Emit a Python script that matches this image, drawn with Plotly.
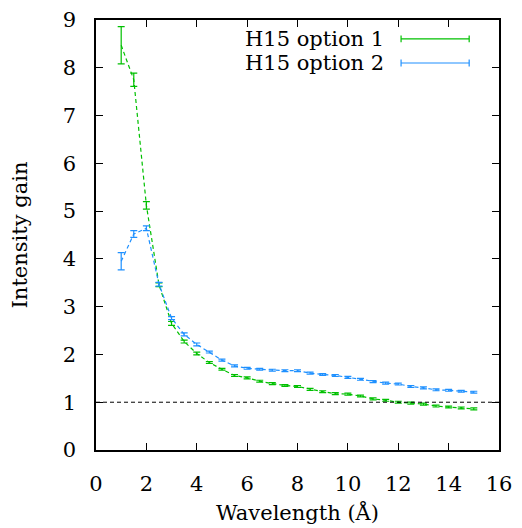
import plotly.graph_objects as go

# wavelength (Angstrom)
wavelength = [1.0, 1.5, 2.0, 2.5, 3.0, 3.5, 4.0, 4.5, 5.0, 5.5, 6.0, 6.5, 7.0, 7.5,
              8.0, 8.5, 9.0, 9.5, 10.0, 10.5, 11.0, 11.5, 12.0, 12.5, 13.0, 13.5,
              14.0, 14.5, 15.0]

# H15 option 1
gain_opt1 = [8.47, 7.75, 5.12, 3.46, 2.65, 2.27, 2.02, 1.83, 1.69, 1.56, 1.51, 1.44,
             1.39, 1.35, 1.33, 1.27, 1.22, 1.18, 1.17, 1.13, 1.07, 1.04, 1.00, 0.98,
             0.96, 0.92, 0.90, 0.88, 0.86]
err_opt1 = [0.39, 0.14, 0.08, 0.04, 0.04, 0.03, 0.03, 0.02, 0.02, 0.02, 0.02, 0.02,
            0.02, 0.02, 0.02, 0.02, 0.02, 0.02, 0.02, 0.02, 0.02, 0.02, 0.02, 0.02,
            0.02, 0.02, 0.02, 0.02, 0.02]

# H15 option 2
gain_opt2 = [3.95, 4.52, 4.64, 3.47, 2.76, 2.42, 2.21, 2.05, 1.88, 1.76, 1.71, 1.69,
             1.67, 1.66, 1.66, 1.61, 1.58, 1.56, 1.52, 1.48, 1.43, 1.40, 1.38, 1.33,
             1.30, 1.26, 1.25, 1.23, 1.21]
err_opt2 = [0.18, 0.07, 0.05, 0.04, 0.03, 0.03, 0.03, 0.02, 0.02, 0.02, 0.02, 0.02,
            0.02, 0.02, 0.02, 0.02, 0.02, 0.02, 0.02, 0.02, 0.02, 0.02, 0.02, 0.02,
            0.02, 0.02, 0.02, 0.02, 0.02]

names = ["H15 option 1", "H15 option 2"]
colors = ["#00c000", "#1e90ff"]

# DejaVu Serif is the serif face that renders reliably here
font = "DejaVu Serif"

fig = go.Figure()

for name, y, err, c in zip(names, [gain_opt1, gain_opt2], [err_opt1, err_opt2], colors):
    fig.add_trace(go.Scatter(
        x=wavelength, y=y, name=name, mode="lines",
        line=dict(color=c, width=1.2, dash="4px,3px"),
        error_y=dict(type="data", array=err, visible=True, color=c, thickness=1.2, width=3.5),
        showlegend=False,
    ))

# reference line at gain = 1
fig.add_trace(go.Scatter(
    x=[0, 16], y=[1, 1], mode="lines", showlegend=False,
    line=dict(color="black", width=1, dash="4px,3px"),
))

# legend drawn by hand (text left, error-bar sample right)
for i, (name, c) in enumerate(zip(names, colors)):
    yp = 0.956 - i * 0.056
    fig.add_annotation(x=0.72, y=yp, xref="paper", yref="paper", text=name,
                       showarrow=False, xanchor="right", yanchor="middle",
                       font=dict(family=font, size=21, color="black"))
    fig.add_shape(type="line", xref="paper", yref="paper", x0=0.757, x1=0.926,
                  y0=yp, y1=yp, line=dict(color=c, width=1.2))
    for xe in (0.757, 0.926):
        fig.add_shape(type="line", xref="paper", yref="paper", x0=xe, x1=xe,
                      y0=yp - 0.008, y1=yp + 0.008, line=dict(color=c, width=1.2))

# the page body has an 8px margin, so the figure is a little smaller than the window
fig.update_layout(
    width=514, height=520,
    margin=dict(l=88, r=23, t=12, b=78),
    paper_bgcolor="white", plot_bgcolor="white",
    font=dict(family=font, size=21, color="black"),
    xaxis=dict(range=[0, 16], dtick=2, ticklabelstandoff=14,
               title=dict(text="Wavelength (Å)", font=dict(family=font, size=21), standoff=10)),
    yaxis=dict(range=[0, 9], dtick=1, ticklabelstandoff=14,
               title=dict(text="Intensity gain", font=dict(family=font, size=21), standoff=30)),
)
axis_style = dict(
    showgrid=False, zeroline=False, showline=True, linecolor="black", linewidth=1.5,
    mirror="ticks", ticks="inside", ticklen=7, tickwidth=1, tickcolor="black",
    tickfont=dict(family=font, size=21, color="black"), automargin=False,
    ticklabeloverflow="allow",
)
fig.update_xaxes(**axis_style)
fig.update_yaxes(**axis_style)

fig.write_html("out.html")
